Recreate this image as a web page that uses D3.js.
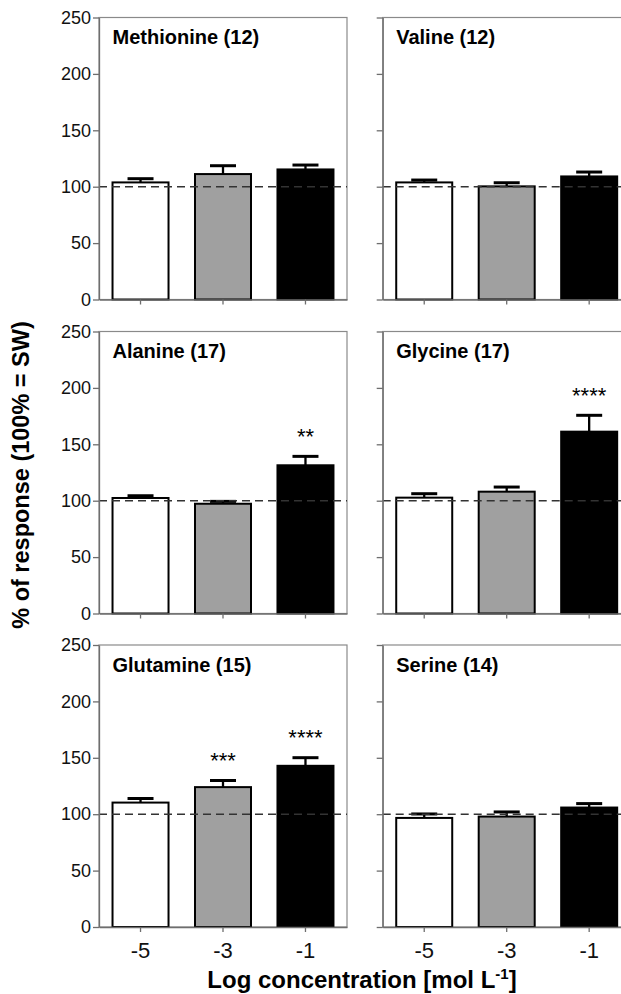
<!DOCTYPE html>
<html>
<head>
<meta charset="utf-8">
<script src="https://d3js.org/d3.v7.min.js"></script>
<style>
    body { margin: 0; background: #fff; }
    svg { display: block; font-family: "Liberation Sans", Arial, sans-serif; }
    .axis path, .axis line { stroke: #6e6e6e; stroke-width: 1.3px; }
    .axis text { fill: #111; }
</style>
</head>
<body>
<script>
    // chart data
    var panelNames = ["Methionine (12)", "Valine (12)", "Alanine (17)", "Glycine (17)", "Glutamine (15)", "Serine (14)"];
    var concentrations = ["-5", "-3", "-1"];
    var means = [
        [103.8, 111.2, 115.3],
        [103.8, 100.3, 109.1],
        [102.4, 97.3, 131.4],
        [102.7, 108.0, 161.2],
        [110.3, 124.0, 142.9],
        [96.7, 97.9, 105.9]
    ];
    var sems = [
        [3.3, 7.4, 3.9],
        [2.1, 3.2, 3.9],
        [2.0, 2.1, 7.9],
        [3.5, 4.1, 14.5],
        [3.6, 5.9, 7.2],
        [3.5, 4.1, 3.5]
    ];
    var stars = [
        ["", "", ""],
        ["", "", ""],
        ["", "", "**"],
        ["", "", "****"],
        ["", "***", "****"],
        ["", "", ""]
    ];
    var yTicks = [0, 50, 100, 150, 200, 250];
    var reference = 100;
    var barFills = ["#ffffff", "#a0a0a0", "#000000"];

    // layout
    var width = 621, height = 994;
    var colX = [99, 382.7], panelW = 248;
    var rowY = [17.5, 331.5, 645], panelH = 282;

    var svg = d3.select("body").append("svg")
        .attr("width", width)
        .attr("height", height);

    var x = d3.scaleBand()
        .domain(concentrations)
        .range([0, panelW])
        .paddingInner(0.321)
        .paddingOuter(0.164);

    var y = d3.scaleLinear()
        .domain([0, 250])
        .range([panelH, 0]);

    panelNames.forEach(function(name, p) {
        var col = p % 2, row = Math.floor(p / 2);
        var g = svg.append("g")
            .attr("transform", "translate(" + colX[col] + "," + rowY[row] + ")");

        // frame (top / right)
        g.append("rect")
            .attr("x", 0).attr("y", 0)
            .attr("width", panelW).attr("height", panelH)
            .attr("fill", "none")
            .attr("stroke", "#8a8a8a")
            .attr("stroke-width", 1.2);

        var rows = concentrations.map(function(c, i) {
            return { c: c, mean: means[p][i], sem: sems[p][i], star: stars[p][i], fill: barFills[i] };
        });

        // bars
        g.selectAll("rect.bar")
            .data(rows)
            .enter().append("rect")
            .attr("class", "bar")
            .attr("x", function(d) { return x(d.c); })
            .attr("y", function(d) { return y(d.mean); })
            .attr("width", x.bandwidth())
            .attr("height", function(d) { return y(0) - y(d.mean); })
            .attr("fill", function(d) { return d.fill; })
            .attr("stroke", "#000")
            .attr("stroke-width", 2);

        // error bars (upper only)
        g.selectAll("line.err")
            .data(rows)
            .enter().append("line")
            .attr("class", "err")
            .attr("x1", function(d) { return x(d.c) + x.bandwidth() / 2; })
            .attr("x2", function(d) { return x(d.c) + x.bandwidth() / 2; })
            .attr("y1", function(d) { return y(d.mean); })
            .attr("y2", function(d) { return y(d.mean + d.sem); })
            .attr("stroke", "#000")
            .attr("stroke-width", 2.3);

        g.selectAll("line.cap")
            .data(rows)
            .enter().append("line")
            .attr("class", "cap")
            .attr("x1", function(d) { return x(d.c) + x.bandwidth() / 2 - 13; })
            .attr("x2", function(d) { return x(d.c) + x.bandwidth() / 2 + 13; })
            .attr("y1", function(d) { return y(d.mean + d.sem); })
            .attr("y2", function(d) { return y(d.mean + d.sem); })
            .attr("stroke", "#000")
            .attr("stroke-width", 3);

        // 100% reference
        g.append("line")
            .attr("x1", 0).attr("x2", panelW)
            .attr("y1", y(reference)).attr("y2", y(reference))
            .attr("stroke", "#333")
            .attr("stroke-width", 1.6)
            .attr("stroke-dasharray", "8,5");

        // significance stars
        g.selectAll("text.star")
            .data(rows.filter(function(d) { return d.star; }))
            .enter().append("text")
            .attr("class", "star")
            .attr("x", function(d) { return x(d.c) + x.bandwidth() / 2; })
            .attr("y", function(d) { return y(d.mean + d.sem) - 12.5; })
            .attr("text-anchor", "middle")
            .style("font-size", "22px")
            .text(function(d) { return d.star; });

        // axes
        var yAxis = d3.axisLeft(y).tickValues(yTicks).tickSize(6).tickSizeOuter(0).tickPadding(2);
        if (col === 1) yAxis.tickFormat("");
        g.append("g").attr("class", "axis")
            .call(yAxis)
            .selectAll("text").style("font-size", "18px");

        var xAxis = d3.axisBottom(x).tickSize(5).tickSizeOuter(0).tickPadding(10);
        if (row < 2) xAxis.tickFormat("");
        g.append("g").attr("class", "axis")
            .attr("transform", "translate(0," + panelH + ")")
            .call(xAxis)
            .selectAll("text").style("font-size", "22px");

        // panel title
        g.append("text")
            .attr("x", 13.5)
            .attr("y", 26.5)
            .style("font-size", "20px")
            .style("font-weight", "bold")
            .text(name);
    });

    // y axis title
    svg.append("text")
        .attr("transform", "translate(29,475) rotate(-90)")
        .attr("text-anchor", "middle")
        .style("font-size", "23.5px")
        .style("font-weight", "bold")
        .text("% of response (100% = SW)");

    // x axis title
    var xt = svg.append("text")
        .attr("x", 362)
        .attr("y", 988)
        .attr("text-anchor", "middle")
        .style("font-size", "24px")
        .style("font-weight", "bold");
    xt.append("tspan").text("Log concentration [mol L");
    xt.append("tspan").attr("dy", -9).style("font-size", "15px").text("-1");
    xt.append("tspan").attr("dy", 9).text("]");
</script>
</body>
</html>
